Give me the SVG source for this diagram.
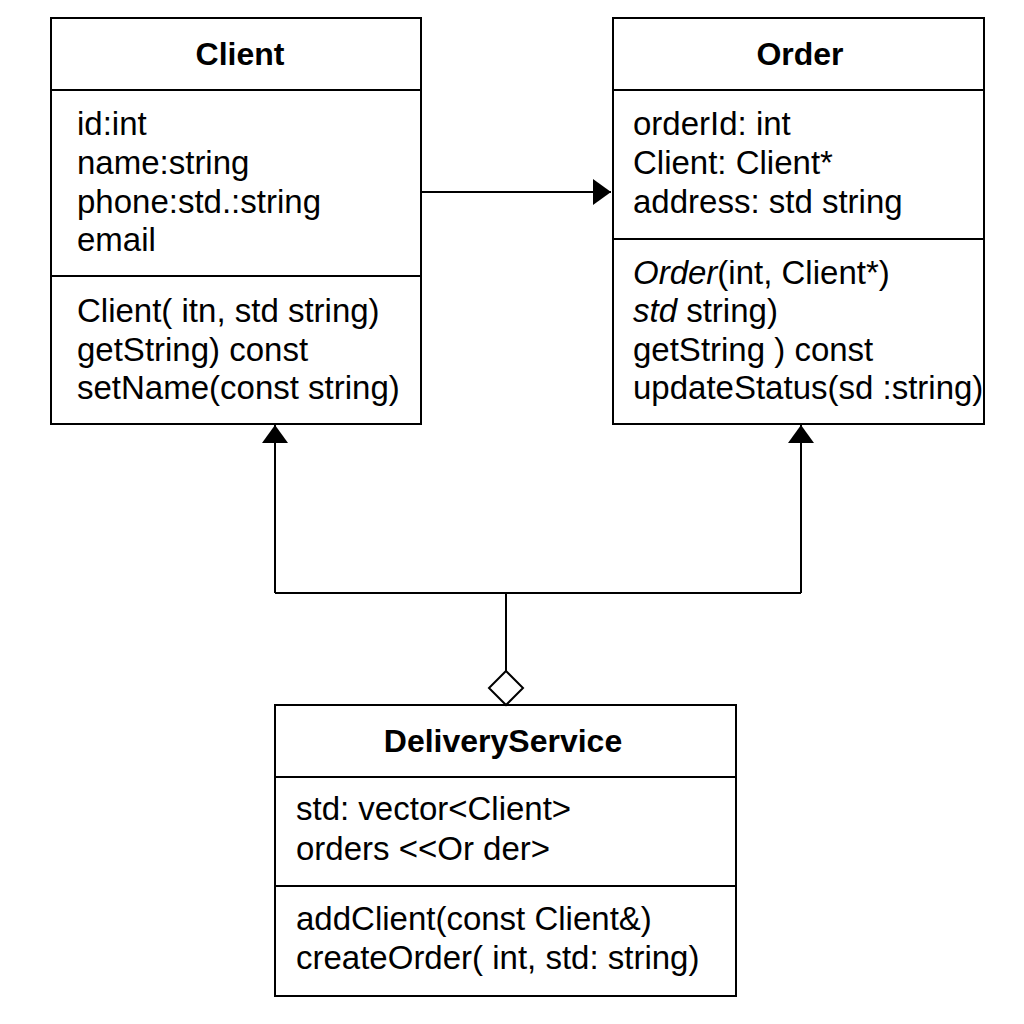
<svg xmlns="http://www.w3.org/2000/svg" width="1024" height="1024" viewBox="0 0 1024 1024">
<style>
.box{fill:#fff;stroke:#000;stroke-width:2}
.div{stroke:#000;stroke-width:2}
.t{font-family:"Liberation Sans",Arial,sans-serif;font-size:33px;fill:#000}
.h{font-family:"Liberation Sans",Arial,sans-serif;font-size:32px;font-weight:bold;fill:#000;text-anchor:middle}
.c{fill:none;stroke:#000;stroke-width:2}
</style>
<defs>
<marker id="tri" markerWidth="18" markerHeight="26" refX="18" refY="13" orient="auto" markerUnits="userSpaceOnUse">
<path d="M0,0 L18,13 L0,26 Z" fill="#000"/>
</marker>
</defs>
<rect width="1024" height="1024" fill="#fff"/>
<g id="Client">
<rect class="box" x="51" y="18" width="370" height="406"/>
<line class="div" x1="51" y1="90" x2="421" y2="90"/>
<line class="div" x1="51" y1="276" x2="421" y2="276"/>
<text class="h" x="240" y="65">Client</text>
<text class="t" x="77" y="135">id:int</text>
<text class="t" x="77" y="174">name:string</text>
<text class="t" x="77" y="213">phone:std.:string</text>
<text class="t" x="77" y="251">email</text>
<text class="t" x="77" y="322">Client( itn, std string)</text>
<text class="t" x="77" y="361">getString)  const</text>
<text class="t" x="77" y="399">setName(const string)</text>
</g>
<g id="Order">
<rect class="box" x="613" y="18" width="371" height="406"/>
<line class="div" x1="613" y1="90" x2="984" y2="90"/>
<line class="div" x1="613" y1="239" x2="984" y2="239"/>
<text class="h" x="800" y="65">Order</text>
<text class="t" x="633" y="135">orderId: int</text>
<text class="t" x="633" y="174">Client: Client*</text>
<text class="t" x="633" y="213">address: std string</text>
<text class="t" x="633" y="284"><tspan font-style="italic">Order</tspan>(int, Client*)</text>
<text class="t" x="633" y="322"><tspan font-style="italic">std</tspan> string)</text>
<text class="t" x="633" y="361">getString ) const</text>
<text class="t" x="633" y="399">updateStatus(sd :string)</text>
</g>
<g id="DeliveryService">
<rect class="box" x="275" y="705" width="461" height="291"/>
<line class="div" x1="275" y1="777" x2="736" y2="777"/>
<line class="div" x1="275" y1="886" x2="736" y2="886"/>
<text class="h" x="503" y="752">DeliveryService</text>
<text class="t" x="296" y="820">std: vector&lt;Client&gt;</text>
<text class="t" x="296" y="860">orders &lt;&lt;Or der&gt;</text>
<text class="t" x="296" y="930">addClient(const Client&amp;)</text>
<text class="t" x="296" y="969">createOrder( int, std: string)</text>
</g>
<g id="connectors">
<line class="c" x1="421" y1="192" x2="611" y2="192" marker-end="url(#tri)"/>
<polyline class="c" points="275,593 275,425" marker-end="url(#tri)"/>
<polyline class="c" points="801,593 801,425" marker-end="url(#tri)"/>
<line class="c" x1="275" y1="593" x2="801" y2="593"/>
<line class="c" x1="506" y1="593" x2="506" y2="671"/>
<path class="c" d="M506,671 L523,688 L506,705 L489,688 Z" fill="#fff"/>
</g>
</svg>
